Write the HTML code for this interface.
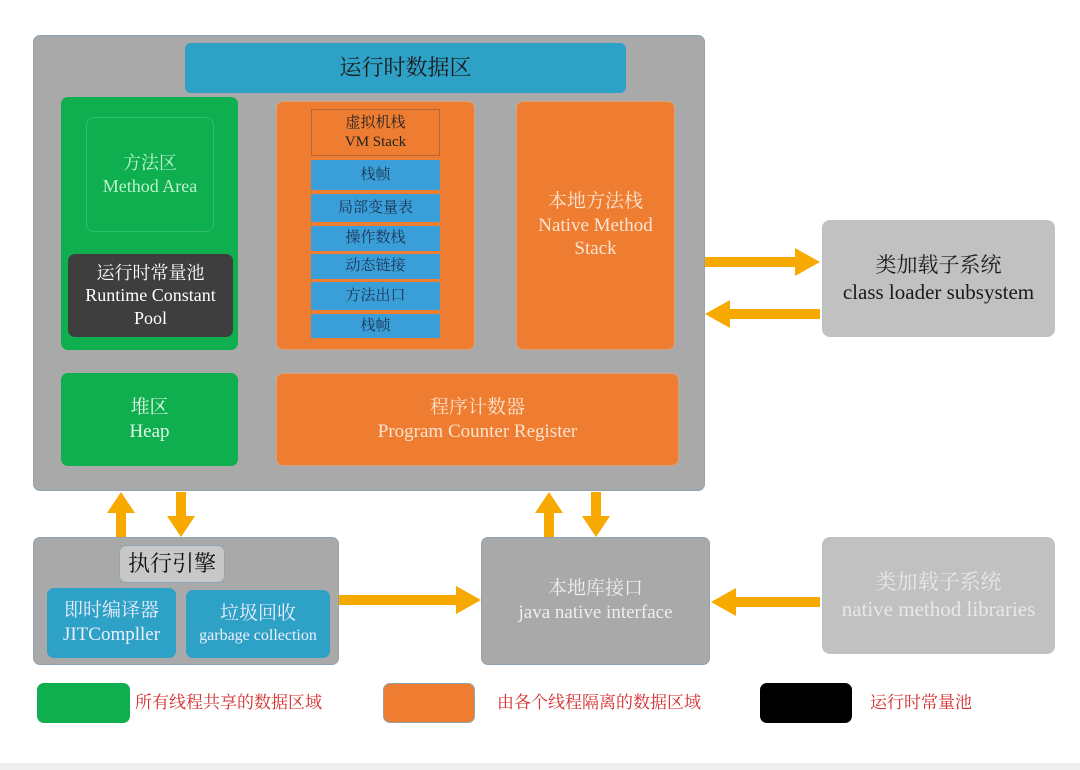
<!DOCTYPE html>
<html><head><meta charset="utf-8"><style>
body{margin:0;width:1080px;height:770px;background:#fff;position:relative;overflow:hidden;font-family:"Liberation Serif","Noto Serif CJK SC","Noto Sans CJK SC",serif;}
.b{position:absolute;box-sizing:border-box;display:flex;flex-direction:column;align-items:center;justify-content:center;text-align:center;line-height:1.25;}
.g{background:#0fae4f;border-radius:7px;}
.o{background:#ee7d31;border-radius:7px;border:1px solid #d9a27a;}
.bl{background:#3a9fd8;color:#1c3350;font-size:15px;}
</style></head><body>
<div class="b" style="left:33px;top:35px;width:672px;height:456px;background:#a9a9a9;border-radius:7px;border:1px solid #8fa4b0"></div>
<div class="b" style="left:185px;top:43px;width:441px;height:50px;background:#2ea1c6;border-radius:6px;font-size:22px;color:#1a1a1a">运行时数据区</div>
<div class="b g" style="left:61px;top:97px;width:177px;height:253px"></div>
<div class="b" style="left:86px;top:117px;width:128px;height:115px;border:1px solid #2fc070;border-radius:8px;color:#bff3cf;font-size:18px">方法区<br>Method Area</div>
<div class="b" style="left:68px;top:254px;width:165px;height:83px;background:#3e3e3e;border-radius:7px;color:#fff;font-size:18px">运行时常量池<br>Runtime Constant<br>Pool</div>
<div class="b o" style="left:276px;top:101px;width:199px;height:249px"></div>
<div class="b" style="left:311px;top:109px;width:129px;height:47px;border:1px solid #b5673a;background:#ee7d31;font-size:15px;color:#222">虚拟机栈<br>VM Stack</div>
<div class="b bl" style="left:311px;top:160px;width:129px;height:30px">栈帧</div>
<div class="b bl" style="left:311px;top:194px;width:129px;height:28px">局部变量表</div>
<div class="b bl" style="left:311px;top:226px;width:129px;height:25px">操作数栈</div>
<div class="b bl" style="left:311px;top:254px;width:129px;height:25px">动态链接</div>
<div class="b bl" style="left:311px;top:282px;width:129px;height:28px">方法出口</div>
<div class="b bl" style="left:311px;top:314px;width:129px;height:24px">栈帧</div>
<div class="b o" style="left:516px;top:101px;width:159px;height:249px;color:#fbe3cf;font-size:19px">本地方法栈<br>Native Method<br>Stack</div>
<div class="b g" style="left:61px;top:373px;width:177px;height:93px;color:#e3f7e9;font-size:19px">堆区<br>Heap</div>
<div class="b o" style="left:276px;top:373px;width:403px;height:93px;color:#fbe3cf;font-size:19px">程序计数器<br>Program Counter Register</div>
<div class="b" style="left:822px;top:220px;width:233px;height:117px;background:#c1c1c1;border-radius:8px;font-size:21px;color:#1a1a1a">类加载子系统<br>class loader subsystem</div>
<div class="b" style="left:33px;top:537px;width:306px;height:128px;background:#a9a9a9;border-radius:7px;border:1px solid #8fa4b0"></div>
<div class="b" style="left:119px;top:545px;width:106px;height:38px;background:#c8c8c8;border:1px solid #8fa4b0;border-radius:7px;font-size:22px;color:#111">执行引擎</div>
<div class="b" style="left:47px;top:588px;width:129px;height:70px;background:#2ea1c6;border-radius:7px;color:#eef;font-size:19px">即时编译器<br>JITCompller</div>
<div class="b" style="left:186px;top:590px;width:144px;height:68px;background:#2ea1c6;border-radius:7px;color:#eef;font-size:19px"><span>垃圾回收</span><span style="font-size:16px">garbage collection</span></div>
<div class="b" style="left:481px;top:537px;width:229px;height:128px;background:#a9a9a9;border-radius:7px;border:1px solid #8fa4b0;color:#eee;font-size:19px">本地库接口<br>java native interface</div>
<div class="b" style="left:822px;top:537px;width:233px;height:117px;background:#c1c1c1;border-radius:8px;color:#e8e8e8;font-size:21px">类加载子系统<br>native method libraries</div>
<svg style="position:absolute;left:0;top:0" width="1080" height="770">
<g fill="#f7a900">
<polygon points="705,257 795,257 795,248 820,262 795,276 795,267 705,267"/>
<polygon points="820,309 730,309 730,300 705,314 730,328 730,319 820,319"/>
<polygon points="339,595 456,595 456,586 481,600 456,614 456,605 339,605"/>
<polygon points="820,597 736,597 736,588 711,602 736,616 736,607 820,607"/>
<polygon points="116,537 116,513 107,513 121,492 135,513 126,513 126,537"/>
<polygon points="176,492 176,516 167,516 181,537 195,516 186,516 186,492"/>
<polygon points="544,537 544,513 535,513 549,492 563,513 554,513 554,537"/>
<polygon points="591,492 591,516 582,516 596,537 610,516 601,516 601,492"/>
</g></svg>
<div class="b" style="left:37px;top:683px;width:93px;height:40px;background:#0fae4f;border-radius:7px"></div>
<div class="b" style="left:135px;top:692px;font-size:17px;color:#d42d2d">所有线程共享的数据区域</div>
<div class="b" style="left:383px;top:683px;width:92px;height:40px;background:#ee7d31;border-radius:7px;border:1px solid #8fa4b0"></div>
<div class="b" style="left:497px;top:692px;font-size:17px;color:#d42d2d">由各个线程隔离的数据区域</div>
<div class="b" style="left:760px;top:683px;width:92px;height:40px;background:#000;border-radius:7px"></div>
<div class="b" style="left:870px;top:692px;font-size:17px;color:#d42d2d">运行时常量池</div>
<div style="position:absolute;left:0;top:763px;width:1080px;height:7px;background:#eee"></div>
</body></html>
